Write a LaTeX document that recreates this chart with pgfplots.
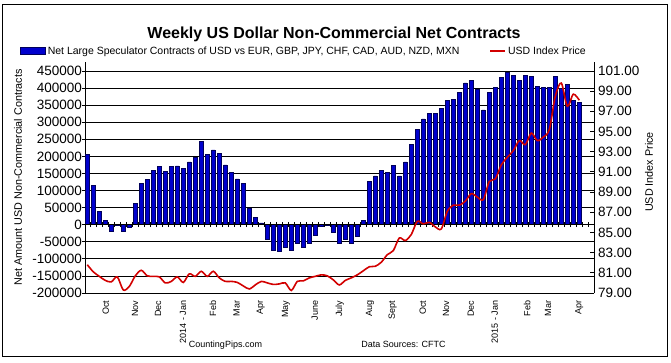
\documentclass[border=0pt]{standalone}
\usepackage{fontspec}
\setmainfont{Liberation Sans}
\usepackage{pgfplots}
\pgfplotsset{compat=1.18}
\usepackage{pgfplotstable}
\definecolor{barfill}{RGB}{0,0,205}
\definecolor{baredge}{RGB}{0,0,90}
\definecolor{usdred}{RGB}{210,0,0}

\pgfplotstableread{
idx net usd
0 205000 81.8
1 114000 81.1
2 38000 80.65
3 12000 80.25
4 -19000 80.1
5 -3000 80.6
6 -19000 79.3
7 -7000 79.65
8 63000 80.7
9 120000 81.25
10 132000 80.7
11 158000 80.65
12 170000 80.6
13 155000 80.0
14 170000 80.15
15 172000 80.6
16 164000 80.05
17 184000 80.9
18 197000 80.65
19 243000 81.15
20 205000 80.65
21 219000 81.15
22 208000 80.5
23 175000 80.15
24 152000 80.15
25 134000 80.05
26 120000 79.7
27 49000 79.4
28 22000 79.8
29 5000 80.15
30 -42000 80.0
31 -74000 79.85
32 -77000 79.9
33 -66000 80.0
34 -74000 79.25
35 -53000 80.15
36 -66000 80.2
37 -53000 80.5
38 -30000 80.65
39 -4000 80.8
40 -3000 80.7
41 -22000 80.3
42 -53000 79.8
43 -42000 80.25
44 -53000 80.5
45 -33000 80.8
46 12000 81.2
47 126000 81.6
48 143000 81.65
49 158000 82.05
50 152000 82.8
51 173000 83.2
52 143000 84.45
53 184000 84.2
54 234000 84.8
55 278000 86.1
56 310000 85.85
57 327000 86.0
58 327000 85.55
59 341000 85.35
60 363000 87.1
61 368000 87.7
62 388000 87.7
63 415000 88.1
64 423000 88.85
65 396000 88.5
66 336000 88.25
67 387000 90.05
68 403000 90.3
69 432000 91.7
70 447000 92.45
71 438000 93.1
72 423000 94.1
73 438000 93.7
74 435000 94.85
75 406000 94.1
76 402000 94.45
77 402000 95.2
78 435000 98.5
79 400000 99.8
80 410000 97.5
81 365000 98.7
82 358000 98.1
}\datatable

\begin{document}
\begin{tikzpicture}[x=1bp,y=1bp]
\path[use as bounding box] (0,0) rectangle (671,362);
\draw[line width=0.8bp] (2.5,5.5) rectangle (667.5,357.5);
\node[anchor=base, inner sep=0pt, font=\fontsize{16bp}{19bp}\selectfont\bfseries] at (334,323.4) {Weekly US Dollar Non-Commercial Net Contracts};
\node[anchor=base, inner sep=0pt, font=\fontsize{9bp}{11bp}\selectfont] at (225.5,14.5) {CountingPips.com};
\node[anchor=base, inner sep=0pt, font=\fontsize{9bp}{11bp}\selectfont] at (403.5,14.5) {Data Sources: CFTC};

% bars, left axis
\begin{axis}[
  at={(85bp,69bp)}, anchor=south west, scale only axis,
  width=509bp, height=231bp,
  xmin=-0.38, xmax=84.45,
  ymin=-200000, ymax=476400,
  scaled y ticks=false, scaled x ticks=false,
  axis x line*=bottom, axis y line*=left,
  axis line style={-, line width=0.8bp},
  ytick={-200000,-150000,-100000,-50000,0,50000,100000,150000,200000,250000,300000,350000,400000,450000},
  yticklabels={-200000,-150000,-100000,-50000,0,50000,100000,150000,200000,250000,300000,350000,400000,450000},
  ymajorgrids, grid style={black, line width=0.8bp},
  ytick style={line width=0.8bp, black},
  tick align=outside, major tick length=3bp,
  yticklabel style={font=\fontsize{13.5bp}{16bp}\selectfont, inner sep=0pt},
  xtick={3.1,7.95,11.8,15.95,20.95,24.9,28.9,33.1,37.9,42.1,47.1,50.9,55.9,59.8,63.9,67.9,73.3,76.8,82},
  xticklabels={Oct,Nov,Dec,2014 - Jan,Feb,Mar,Apr,May,June,July,Aug,Sept,Oct,Nov,Dec,2015 - Jan,Feb,Mar,Apr},
  xtick style={draw=none},
  xticklabel style={font=\fontsize{9bp}{10bp}\selectfont, inner sep=0pt, yshift=-4.5bp, rotate=90, anchor=east},
  ylabel={Net Amount USD Non-Commercial Contracts},
  ylabel style={at={(axis description cs:-0.1316,0.5)}, anchor=center, font=\fontsize{10.8bp}{13bp}\selectfont},
  legend style={draw=none, fill=none, inner sep=0pt, at={(axis description cs:-0.1277,1.0468)}, anchor=west,
    font=\fontsize{10.5bp}{12bp}\selectfont, /tikz/every even column/.append style={column sep=28bp}},
  legend columns=2, legend cell align=left,
]
\addplot[ybar, bar shift=0pt, bar width=3.1bp, fill=barfill, draw=baredge, line width=0.6bp, forget plot] table[x=idx,y=net]{\datatable};
\addlegendimage{legend image code/.code={\draw[fill=barfill,draw=baredge,line width=0.6bp] (0bp,-3.5bp) rectangle (25bp,3.5bp);}}
\addlegendentry{Net Large Speculator Contracts of USD vs EUR, GBP, JPY, CHF, CAD, AUD, NZD, MXN}
\addlegendimage{legend image code/.code={\draw[usdred,line width=1.8bp] (0bp,0bp) -- (15bp,0bp);}}
\addlegendentry{USD Index Price}
\end{axis}

% zero line with category ticks
\begin{axis}[
  at={(85bp,69bp)}, anchor=south west, scale only axis,
  width=509bp, height=231bp,
  xmin=-0.38, xmax=84.45,
  ymin=-200000, ymax=476400,
  scaled y ticks=false, scaled x ticks=false,
  axis x line=middle, axis y line=none,
  axis line style={-, line width=0.8bp},
  xtick={0.5,1.5,...,83.5}, xticklabels={},
  xtick style={line width=0.6bp, black},
  tick align=center, major tick length=5bp,
  ytick=\empty, yticklabels={},
]
\end{axis}

% right axis, USD index
\begin{axis}[
  at={(85bp,69bp)}, anchor=south west, scale only axis,
  width=509bp, height=231bp,
  xmin=-0.38, xmax=84.45,
  ymin=79, ymax=101.89,
  scaled y ticks=false, scaled x ticks=false,
  axis y line*=right, axis x line=none,
  axis line style={-, line width=0.8bp},
  ytick={79,81,83,85,87,89,91,93,95,97,99,101},
  yticklabels={79.00,81.00,83.00,85.00,87.00,89.00,91.00,93.00,95.00,97.00,99.00,101.00},
  ytick style={line width=0.8bp, black},
  tick align=inside, major tick length=4bp,
  yticklabel style={font=\fontsize{13.5bp}{16bp}\selectfont, inner sep=0pt, xshift=4bp},
  ylabel={USD Index Price},
  ylabel style={at={(axis description cs:1.108,0.524)}, anchor=center, font=\fontsize{10.8bp}{13bp}\selectfont},
]
\addplot[usdred, line width=1.6bp, smooth, tension=0.5] table[x=idx,y=usd]{\datatable};
\end{axis}
\end{tikzpicture}
\end{document}
